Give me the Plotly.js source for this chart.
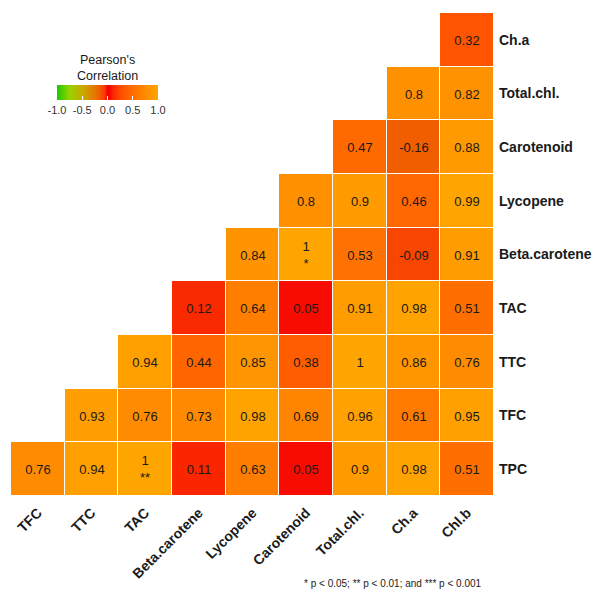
<!DOCTYPE html>
<html>
<head>
<meta charset="utf-8">
<script src="https://cdn.plot.ly/plotly-3.0.1.min.js"></script>
<style>html,body{margin:0;padding:0;background:#fff;}#chart{width:594px;height:592px;}</style>
</head>
<body>
<div id="chart"></div>
<script>
// Columns (left to right) and rows (top to bottom)
const columns = ["TFC","TTC","TAC","Beta.carotene","Lycopene","Carotenoid","Total.chl.","Ch.a","Chl.b"];
const rows = ["Ch.a","Total.chl.","Carotenoid","Lycopene","Beta.carotene","TAC","TTC","TFC","TPC"];

// Correlation values per row (null = empty)
const rowChA        = [null,null,null,null,null,null,null,null,0.32];
const rowTotalChl   = [null,null,null,null,null,null,null,0.8,0.82];
const rowCarotenoid = [null,null,null,null,null,null,0.47,-0.16,0.88];
const rowLycopene   = [null,null,null,null,null,0.8,0.9,0.46,0.99];
const rowBetaCar    = [null,null,null,null,0.84,1,0.53,-0.09,0.91];
const rowTAC        = [null,null,null,0.12,0.64,0.05,0.91,0.98,0.51];
const rowTTC        = [null,null,0.94,0.44,0.85,0.38,1,0.86,0.76];
const rowTFC        = [null,0.93,0.76,0.73,0.98,0.69,0.96,0.61,0.95];
const rowTPC        = [0.76,0.94,1,0.11,0.63,0.05,0.9,0.98,0.51];

// Significance marks per row
const sigBetaCar = ["","","","","","*","","",""];
const sigTPC     = ["","","**","","","","","",""];

const zRows = [rowChA,rowTotalChl,rowCarotenoid,rowLycopene,rowBetaCar,rowTAC,rowTTC,rowTFC,rowTPC];
const sigRows = {"Beta.carotene": sigBetaCar, "TPC": sigTPC};

const cbTicks = [-1,-0.5,0,0.5,1];
const cbTickText = ["-1.0","-0.5","0.0","0.5","1.0"];
const legendTitle = "Pearson's<br>Correlation";
const footnote = "* p < 0.05; ** p < 0.01; and *** p < 0.001";

const textRows = zRows.map((r,i) => r.map((v,j) => {
  if (v === null) return "";
  const s = sigRows[rows[i]] ? sigRows[rows[i]][j] : "";
  return s ? (String(v) + "<br>" + s) : String(v);
}));

const colorscale = [
  [0.0,   "rgb(30,200,0)"],
  [0.125, "rgb(152,210,0)"],
  [0.25,  "rgb(200,171,0)"],
  [0.375, "rgb(232,118,0)"],
  [0.42,  "rgb(241,94,0)"],
  [0.46,  "rgb(248,66,0)"],
  [0.48,  "rgb(252,45,0)"],
  [0.5,   "rgb(245,0,0)"],
  [0.525, "rgb(246,12,0)"],
  [0.56,  "rgb(250,42,0)"],
  [0.625, "rgb(255,75,0)"],
  [0.75,  "rgb(255,110,0)"],
  [0.875, "rgb(255,139,0)"],
  [1.0,   "rgb(255,165,0)"]
];

const FONT = "Liberation Sans, Arial, sans-serif";
// pixel -> paper helpers (plot area x: 11..494, y: 13..496)
const px2x = p => (p - 11) / 483;
const py2y = p => (496 - p) / 483;

const trace = {
  type: "heatmap",
  x: columns,
  y: rows,
  z: zRows,
  text: textRows,
  texttemplate: "%{text}",
  textfont: {family: FONT, size: 13, color: "#1a1a1a"},
  zmin: -1, zmax: 1,
  colorscale: colorscale,
  xgap: 1, ygap: 1,
  hoverongaps: false,
  colorbar: {
    orientation: "h",
    xref: "paper", yref: "paper",
    x: px2x(57), xanchor: "left",
    y: py2y(85), yanchor: "top",
    lenmode: "pixels", len: 101,
    thickness: 15,
    outlinewidth: 0,
    xpad: 0, ypad: 0,
    tickvals: cbTicks, ticktext: cbTickText,
    tickangle: 0,
    ticks: "inside", ticklen: 4, tickcolor: "#ffffff", tickwidth: 1,
    tickfont: {family: FONT, size: 11, color: "#333"}
  }
};

const layout = {
  width: 594, height: 592,
  margin: {l: 11, r: 100, t: 13, b: 96},
  paper_bgcolor: "#ffffff", plot_bgcolor: "#ffffff",
  xaxis: {
    type: "category", showgrid: false, zeroline: false, showline: false, ticks: "",
    tickangle: -45, automargin: false, ticklabelstandoff: 5,
    tickfont: {family: FONT, size: 14, weight: "bold", color: "#1a1a1a"}
  },
  yaxis: {
    type: "category", side: "right", autorange: "reversed", automargin: false,
    showgrid: false, zeroline: false, showline: false, ticks: "",
    ticklabelstandoff: 4,
    tickfont: {family: FONT, size: 14, weight: "bold", color: "#1a1a1a"}
  },
  annotations: [
    {
      text: legendTitle, xref: "paper", yref: "paper",
      x: px2x(107), xanchor: "center", y: py2y(68), yanchor: "middle",
      showarrow: false, align: "center",
      font: {family: FONT, size: 12.5, color: "#1a1a1a"}
    },
    {
      text: footnote, xref: "paper", yref: "paper",
      x: px2x(484), xanchor: "right", y: py2y(583), yanchor: "middle",
      showarrow: false,
      font: {family: FONT, size: 10, color: "#1a1a1a"}
    }
  ]
};

Plotly.newPlot("chart", [trace], layout, {displayModeBar: false, staticPlot: true});
</script>
</body>
</html>
